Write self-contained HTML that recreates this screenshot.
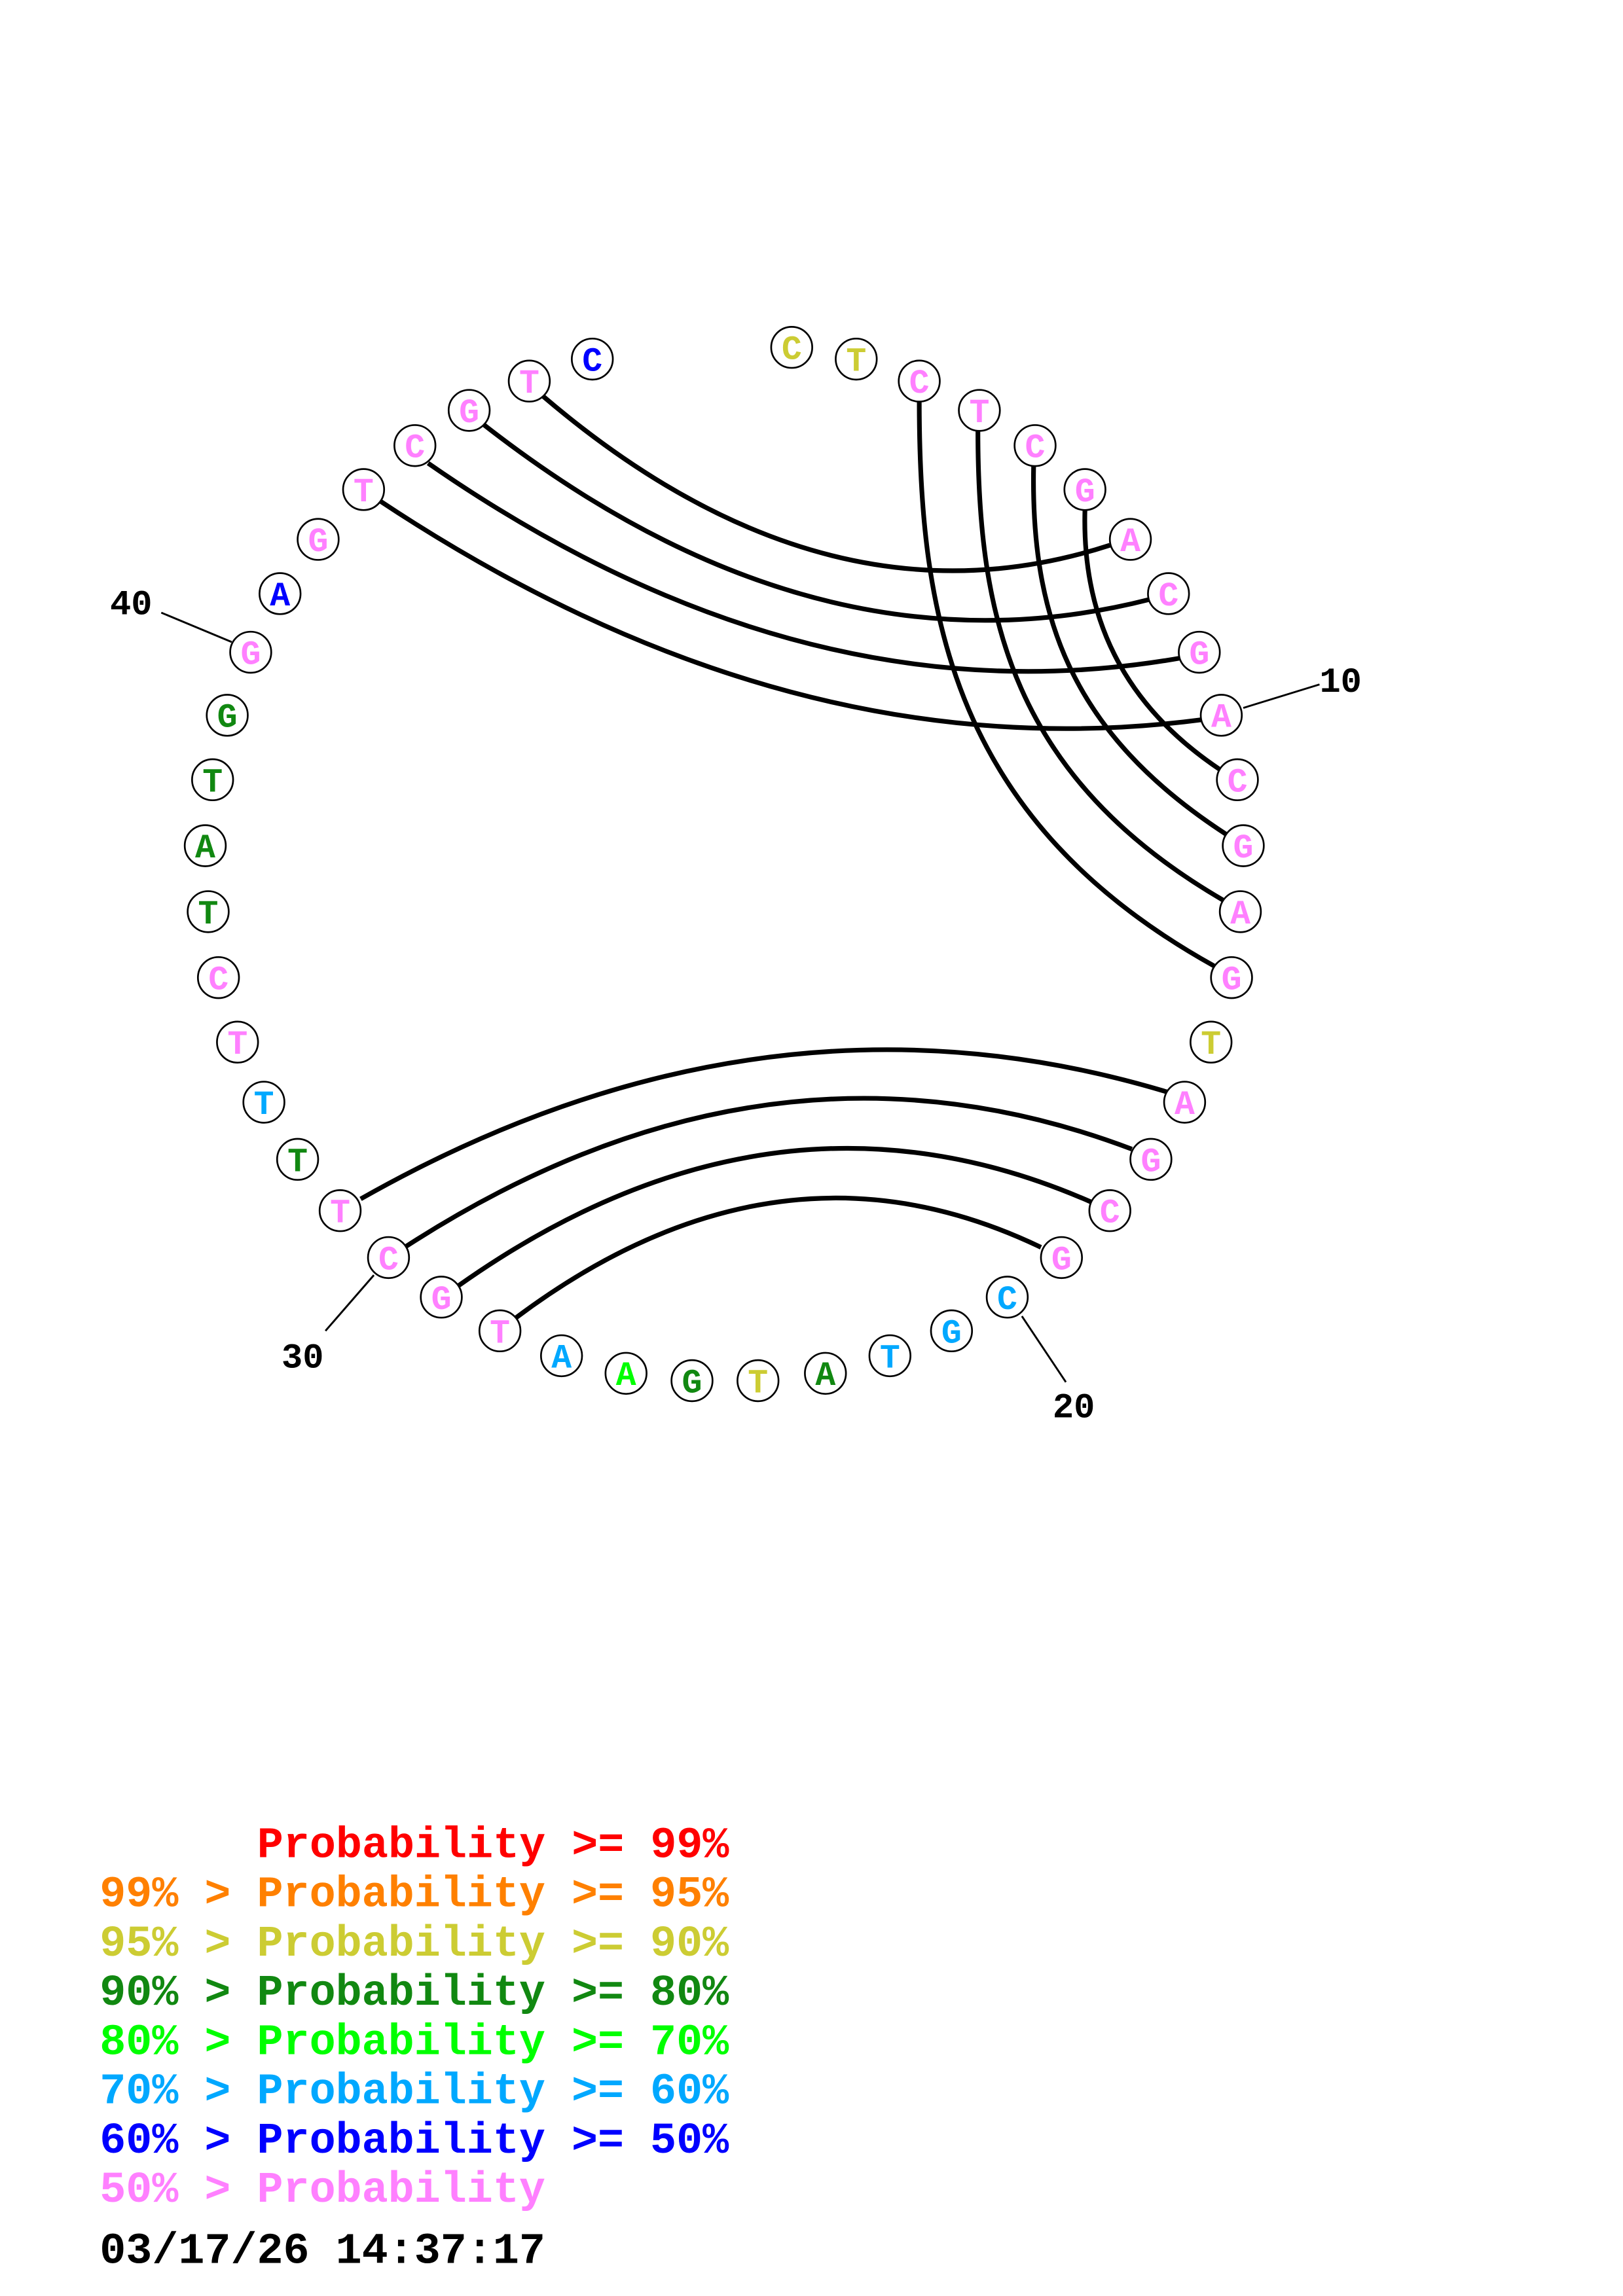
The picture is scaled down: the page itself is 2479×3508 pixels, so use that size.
<!DOCTYPE html>
<html><head><meta charset="utf-8"><style>
html,body{margin:0;padding:0;background:#fff;}
svg{display:block}
</style></head><body>
<svg width="2479" height="3508" viewBox="0 0 1107 1566.5" xmlns="http://www.w3.org/2000/svg">
<rect width="1107" height="1566.5" fill="#fff"/>
<g fill="none" stroke="#000" stroke-width="3.2">
<path d="M796,745 Q521,662 246,818"/>
<path d="M772,784 Q524,690 276,851"/>
<path d="M744,820 Q528,725 313,877"/>
<path d="M710,851 Q531,765 352,899"/>
<path d="M757,372 Q563,435 370,270"/>
<path d="M784,409 Q556,467 329,289"/>
<path d="M805,449 Q548,494 292,316"/>
<path d="M820,491 Q539,528 258,341"/>
<path d="M627,274 C627,420 650,560 828,659"/>
<path d="M667,294 C667,420 690,530 834,614"/>
<path d="M705,318 C703,420 730,500 836,569"/>
<path d="M740,348 C738,420 765,480 832,525"/>
</g>
<g stroke="#000" stroke-width="1.3">
<line x1="848" y1="483" x2="900" y2="467"/>
<line x1="697" y1="898" x2="727" y2="943"/>
<line x1="255" y1="870" x2="222" y2="908"/>
<line x1="158" y1="438" x2="110" y2="418"/>
</g>
<g font-family="Liberation Mono, monospace" font-weight="bold" font-size="24" fill="#000">
<text x="900" y="472">10</text>
<text x="718" y="967">20</text>
<text x="192" y="933">30</text>
<text x="75" y="419">40</text>
</g>
<g font-family="Liberation Mono, monospace" font-weight="bold" font-size="23" text-anchor="middle">
<g stroke="#000" stroke-width="1.2" fill="#fff">
<circle cx="540" cy="237" r="14"/><circle cx="584" cy="245" r="14"/><circle cx="627" cy="260" r="14"/><circle cx="668" cy="280" r="14"/><circle cx="706" cy="304" r="14"/><circle cx="740" cy="334" r="14"/><circle cx="771" cy="368" r="14"/><circle cx="797" cy="405" r="14"/><circle cx="818" cy="445" r="14"/><circle cx="833" cy="488" r="14"/><circle cx="844" cy="532" r="14"/><circle cx="848" cy="577" r="14"/><circle cx="846" cy="622" r="14"/><circle cx="840" cy="667" r="14"/><circle cx="826" cy="711" r="14"/><circle cx="808" cy="752" r="14"/><circle cx="785" cy="791" r="14"/><circle cx="757" cy="826" r="14"/><circle cx="724" cy="858" r="14"/><circle cx="687" cy="885" r="14"/><circle cx="649" cy="908" r="14"/><circle cx="607" cy="925" r="14"/><circle cx="563" cy="937" r="14"/><circle cx="517" cy="942" r="14"/><circle cx="472" cy="942" r="14"/><circle cx="427" cy="937" r="14"/><circle cx="383" cy="925" r="14"/><circle cx="341" cy="908" r="14"/><circle cx="301" cy="885" r="14"/><circle cx="265" cy="858" r="14"/><circle cx="232" cy="826" r="14"/><circle cx="203" cy="791" r="14"/><circle cx="180" cy="752" r="14"/><circle cx="162" cy="711" r="14"/><circle cx="149" cy="667" r="14"/><circle cx="142" cy="622" r="14"/><circle cx="140" cy="577" r="14"/><circle cx="145" cy="532" r="14"/><circle cx="155" cy="488" r="14"/><circle cx="171" cy="445" r="14"/><circle cx="191" cy="405" r="14"/><circle cx="217" cy="368" r="14"/><circle cx="248" cy="334" r="14"/><circle cx="283" cy="304" r="14"/><circle cx="320" cy="280" r="14"/><circle cx="361" cy="260" r="14"/><circle cx="404" cy="245" r="14"/>
</g>
<text x="540" y="245" fill="#cccc33">C</text><text x="584" y="253" fill="#cccc33">T</text>
<text x="627" y="268" fill="#ff80ff">C</text><text x="668" y="288" fill="#ff80ff">T</text><text x="706" y="312" fill="#ff80ff">C</text><text x="740" y="342" fill="#ff80ff">G</text><text x="771" y="376" fill="#ff80ff">A</text><text x="797" y="413" fill="#ff80ff">C</text><text x="818" y="453" fill="#ff80ff">G</text><text x="833" y="496" fill="#ff80ff">A</text><text x="844" y="540" fill="#ff80ff">C</text><text x="848" y="585" fill="#ff80ff">G</text><text x="846" y="630" fill="#ff80ff">A</text><text x="840" y="675" fill="#ff80ff">G</text>
<text x="826" y="719" fill="#cccc33">T</text>
<text x="808" y="760" fill="#ff80ff">A</text><text x="785" y="799" fill="#ff80ff">G</text><text x="757" y="834" fill="#ff80ff">C</text><text x="724" y="866" fill="#ff80ff">G</text>
<text x="687" y="893" fill="#00a8ff">C</text><text x="649" y="916" fill="#00a8ff">G</text><text x="607" y="933" fill="#00a8ff">T</text>
<text x="563" y="945" fill="#118811">A</text><text x="517" y="950" fill="#cccc33">T</text><text x="472" y="950" fill="#118811">G</text><text x="427" y="945" fill="#00ff00">A</text><text x="383" y="933" fill="#00a8ff">A</text>
<text x="341" y="916" fill="#ff80ff">T</text><text x="301" y="893" fill="#ff80ff">G</text><text x="265" y="866" fill="#ff80ff">C</text><text x="232" y="834" fill="#ff80ff">T</text>
<text x="203" y="799" fill="#118811">T</text><text x="180" y="760" fill="#00a8ff">T</text>
<text x="162" y="719" fill="#ff80ff">T</text><text x="149" y="675" fill="#ff80ff">C</text>
<text x="142" y="630" fill="#118811">T</text><text x="140" y="585" fill="#118811">A</text><text x="145" y="540" fill="#118811">T</text><text x="155" y="496" fill="#118811">G</text>
<text x="171" y="453" fill="#ff80ff">G</text><text x="191" y="413" fill="#0000ff">A</text><text x="217" y="376" fill="#ff80ff">G</text><text x="248" y="342" fill="#ff80ff">T</text><text x="283" y="312" fill="#ff80ff">C</text><text x="320" y="288" fill="#ff80ff">G</text><text x="361" y="268" fill="#ff80ff">T</text><text x="404" y="253" fill="#0000ff">C</text>
</g>
<g font-family="Liberation Mono, monospace" font-weight="bold" font-size="29.8">
<text x="175.4" y="1267" fill="#ff0000">Probability &gt;= 99%</text>
<text x="68" y="1300.6" fill="#ff8000">99% &gt; Probability &gt;= 95%</text>
<text x="68" y="1334.2" fill="#cccc33">95% &gt; Probability &gt;= 90%</text>
<text x="68" y="1367.8" fill="#118811">90% &gt; Probability &gt;= 80%</text>
<text x="68" y="1401.4" fill="#00ff00">80% &gt; Probability &gt;= 70%</text>
<text x="68" y="1435" fill="#00a8ff">70% &gt; Probability &gt;= 60%</text>
<text x="68" y="1468.6" fill="#0000ff">60% &gt; Probability &gt;= 50%</text>
<text x="68" y="1502.2" fill="#ff80ff">50% &gt; Probability</text>
<text x="68" y="1544" fill="#000">03/17/26 14:37:17</text>
</g>
</svg>
</body></html>
